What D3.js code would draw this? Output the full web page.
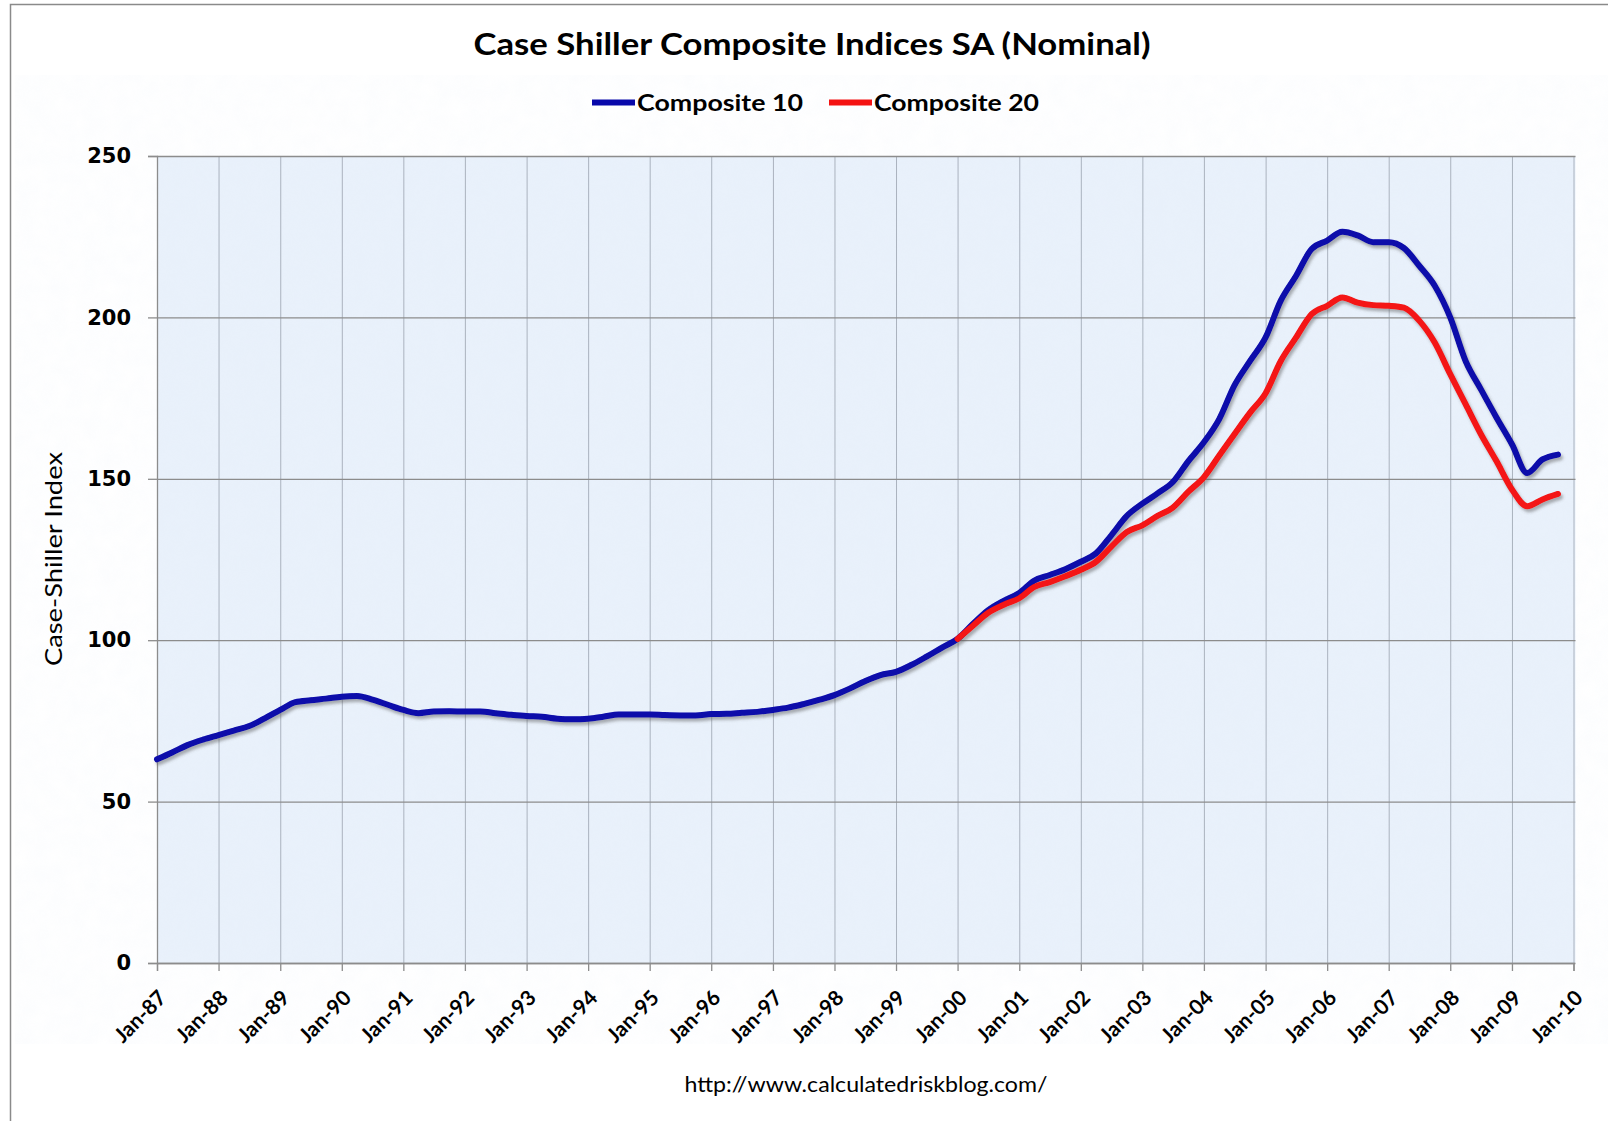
<!DOCTYPE html>
<html>
<head>
<meta charset="utf-8">
<script src="https://cdn.jsdelivr.net/npm/d3@7"></script>
<style>
  body { margin: 0; background: #fff; }
  text { font-family: Lato, "Liberation Sans Narrow", "Open Sans", sans-serif; fill: #000; }
</style>
</head>
<body>
<div id="chart"></div>
<script>

// chart values (quarterly: Jan, Apr, Jul, Oct)
const cs10Start = "1987-01";
const cs10 = [
  63.1, 65.2, 67.5, 69.2,    // 1987
  70.6, 72.0, 73.4, 75.8,    // 1988
  78.4, 80.8, 81.4, 81.9,    // 1989
  82.5, 82.7, 81.6, 80.0,    // 1990
  78.4, 77.4, 77.9, 78.0,    // 1991
  77.9, 77.9, 77.4, 76.9,    // 1992
  76.5, 76.3, 75.7, 75.5,    // 1993
  75.7, 76.3, 77.0, 77.0,    // 1994
  77.0, 76.8, 76.7, 76.7,    // 1995
  77.1, 77.2, 77.5, 77.8,    // 1996
  78.4, 79.1, 80.2, 81.5,    // 1997
  83.0, 85.0, 87.3, 89.2,    // 1998
  90.2, 92.3, 94.9, 97.7,    // 1999
  100.4, 105.0, 109.3, 112.2, // 2000
  114.6, 118.5, 120.2, 122.0, // 2001
  124.3, 126.9, 132.5, 138.5, // 2002
  142.3, 145.5, 149.0, 155.5, // 2003
  161.3, 168.5, 179.0, 186.5, // 2004
  193.8, 205.2, 212.9, 221.2, // 2005
  223.8, 226.5, 225.4, 223.3, // 2006
  223.3, 221.5, 216.0, 209.8, // 2007
  200.0, 186.5, 177.7, 169.0, // 2008
  160.7, 151.8, 156.0, 157.5  // 2009
];

const cs20Start = "2000-01";
const cs20 = [
  100.4, 104.5, 108.5, 111.0, // 2000
  113.0, 116.5, 118.0, 119.8, // 2001
  121.8, 124.3, 129.0, 133.5, // 2002
  135.6, 138.5, 141.1, 146.0, // 2003
  150.5, 157.2, 163.9, 170.5, // 2004
  176.5, 186.5, 193.8, 201.0, // 2005
  203.6, 206.2, 204.6, 203.8, // 2006
  203.6, 203.0, 199.0, 192.2, // 2007
  182.4, 173.1, 163.8, 155.5, // 2008
  146.7, 141.5, 143.6, 145.3  // 2009
];

const seriesNames = ["Composite 10", "Composite 20"];
const seriesColors = ["#0808aa", "#f41212"];
const yTicks = [0, 50, 100, 150, 200, 250];
const tickYears = d3.range(1987, 2011);

const width = 1608, height = 1121;
const margin = {left: 157, right: 34.5, top: 156, bottom: 158};

// turn quarterly lists into {date, value}
const parse = d3.timeParse("%Y-%m");
function toPoints(start, vals) {
  const s = parse(start);
  return vals.map((v, i) => ({date: d3.timeMonth.offset(s, i * 3), value: v}));
}
const data = [toPoints(cs10Start, cs10), toPoints(cs20Start, cs20)];

const svg = d3.select("#chart")
  .append("svg")
  .attr("width", width)
  .attr("height", height);

const defs = svg.append("defs");
const shadow = defs.append("filter").attr("id", "shadow")
  .attr("x", "-5%").attr("y", "-5%").attr("width", "110%").attr("height", "110%");
shadow.append("feDropShadow")
  .attr("dx", 2).attr("dy", 3).attr("stdDeviation", 1.6)
  .attr("flood-color", "#555").attr("flood-opacity", 0.45);

const grain = defs.append("filter").attr("id", "grain");
grain.append("feTurbulence").attr("type", "fractalNoise")
  .attr("baseFrequency", 0.06).attr("numOctaves", 2).attr("seed", 4);
grain.append("feColorMatrix").attr("type", "matrix")
  .attr("values", "0 0 0 0 0.75  0 0 0 0 0.82  0 0 0 0 0.92  0 0 0 0.35 0");

// outer chart frame
svg.append("rect")
  .attr("x", 10.5).attr("y", 4.5)
  .attr("width", width + 20).attr("height", height + 20)
  .attr("fill", "none").attr("stroke", "#8a8a8a").attr("stroke-width", 1.5);

const x = d3.scaleTime()
  .domain([new Date(1987, 0, 1), new Date(2010, 0, 1)])
  .range([margin.left, width - margin.right]);

const y = d3.scaleLinear()
  .domain([0, 250])
  .range([height - margin.bottom, margin.top]);

// plot area
const plotW = width - margin.right - margin.left;
const plotH = height - margin.bottom - margin.top;
svg.append("rect")
  .attr("x", margin.left).attr("y", margin.top)
  .attr("width", plotW + 2).attr("height", plotH)
  .attr("fill", "#e9f1fb");
svg.append("rect")
  .attr("x", margin.left).attr("y", margin.top)
  .attr("width", plotW + 2).attr("height", plotH)
  .attr("filter", "url(#grain)").attr("opacity", 0.35);

// vertical grid
svg.append("g")
  .attr("transform", `translate(0,${margin.top})`)
  .call(d3.axisBottom(x)
    .tickValues(tickYears.map(yr => new Date(yr, 0, 1)))
    .tickSize(plotH).tickFormat(""))
  .call(g => g.select(".domain").remove())
  .call(g => g.selectAll("line").attr("stroke", "#aab2be").attr("stroke-width", 1));

// horizontal grid
svg.append("g")
  .attr("transform", `translate(${margin.left},0)`)
  .call(d3.axisRight(y).tickValues(yTicks).tickSize(plotW + 2).tickFormat(""))
  .call(g => g.select(".domain").remove())
  .call(g => g.selectAll("line").attr("stroke", "#8c8c8c").attr("stroke-width", 1.3));

// y-axis
svg.append("g")
  .attr("transform", `translate(${margin.left},0)`)
  .call(d3.axisLeft(y).tickValues(yTicks).tickSize(9).tickPadding(17))
  .call(g => g.select(".domain").attr("stroke", "#8c8c8c").attr("stroke-width", 1.3))
  .call(g => g.selectAll("line").attr("stroke", "#8c8c8c").attr("stroke-width", 1.3))
  .call(g => g.selectAll("text")
    .style("font-family", "'DejaVu Sans', Verdana, sans-serif")
    .attr("font-weight", "bold")
    .attr("font-size", "21px"));

// x-axis
svg.append("g")
  .attr("transform", `translate(0,${height - margin.bottom})`)
  .call(d3.axisBottom(x)
    .tickValues(tickYears.map(yr => new Date(yr, 0, 1)))
    .tickSize(8)
    .tickFormat(d3.timeFormat("%b-%y")))
  .call(g => g.select(".domain").attr("stroke", "#8c8c8c").attr("stroke-width", 1.3))
  .call(g => g.selectAll("line").attr("stroke", "#8c8c8c").attr("stroke-width", 1.3))
  .call(g => g.selectAll("text")
    .attr("font-weight", "bold")
    .attr("font-size", "21px")
    .attr("text-anchor", "end")
    .attr("x", 0).attr("y", 0).attr("dy", "0.35em")
    .attr("transform", "translate(5,31) rotate(-45)"));

// the two series
const line = d3.line()
  .x(d => x(d.date))
  .y(d => y(d.value))
  .curve(d3.curveMonotoneX);

svg.append("g")
  .attr("filter", "url(#shadow)")
  .selectAll("path")
  .data(data)
  .enter()
  .append("path")
    .attr("d", line)
    .attr("fill", "none")
    .attr("stroke", (d, i) => seriesColors[i])
    .attr("stroke-width", 6)
    .attr("stroke-linejoin", "round")
    .attr("stroke-linecap", "round");

// squeeze text to the width used in the picture
function fit(sel, w) {
  sel.attr("textLength", w).attr("lengthAdjust", "spacingAndGlyphs");
}

// title
svg.append("text")
  .attr("x", 812).attr("y", 44)
  .attr("text-anchor", "middle").attr("dy", "0.35em")
  .attr("font-weight", "bold").attr("font-size", "31px")
  .text("Case Shiller Composite Indices SA (Nominal)")
  .call(fit, 677);

// legend
const legendX = [592, 829];
const legendTextW = [166, 165];
seriesNames.forEach((name, i) => {
  svg.append("line")
    .attr("x1", legendX[i]).attr("x2", legendX[i] + 43)
    .attr("y1", 102.5).attr("y2", 102.5)
    .attr("stroke", seriesColors[i]).attr("stroke-width", 6);
  svg.append("text")
    .attr("x", legendX[i] + 45).attr("y", 102.5).attr("dy", "0.35em")
    .attr("font-weight", "bold").attr("font-size", "23px")
    .text(name)
    .call(fit, legendTextW[i]);
});

// y-axis title
svg.append("text")
  .attr("transform", "translate(54,559) rotate(-90)")
  .attr("text-anchor", "middle").attr("dy", "0.35em")
  .attr("font-size", "23px")
  .text("Case-Shiller Index")
  .call(fit, 214);

// source note
svg.append("text")
  .attr("x", 866).attr("y", 1085)
  .attr("text-anchor", "middle").attr("dy", "0.35em")
  .attr("font-size", "21px")
  .text("http://www.calculatedriskblog.com/")
  .call(fit, 363);

</script>
</body>
</html>
